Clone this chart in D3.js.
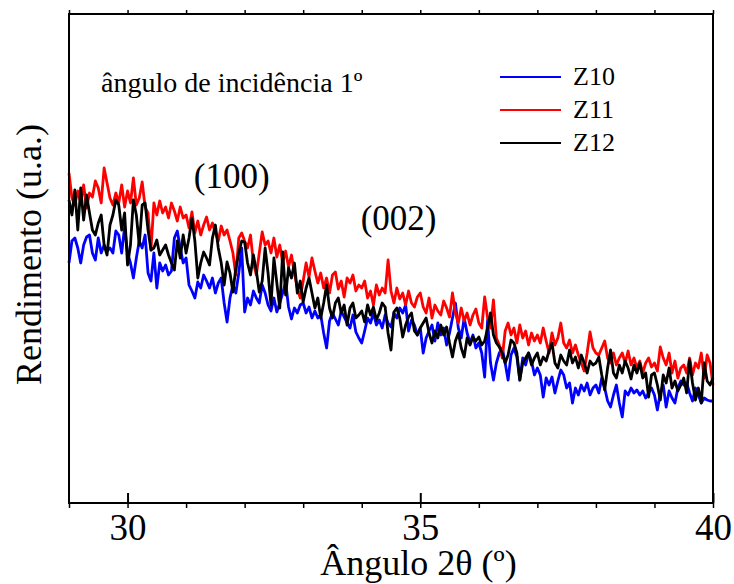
<!DOCTYPE html>
<html>
<head>
<meta charset="utf-8">
<script src="https://cdn.jsdelivr.net/npm/d3@7"></script>
<style>
  body { margin: 0; background: #fff; }
  text { font-family: "Times New Roman", "Liberation Serif", serif; fill: #000; }
</style>
</head>
<body>
<svg id="canvas"></svg>
<script>
// XRD scan, 29-40 deg, step 0.05 deg; intensities in arbitrary units
const startAngle = 29;
const stepAngle = 0.05;

const z10 = [
  240, 262, 265, 255, 240, 258, 266, 268, 250, 243, 265, 250, 258, 252, 255, 250, 272, 268, 250, 276,
  250, 240, 225, 245, 262, 255, 268, 230, 222, 250, 215, 240, 232, 238, 228, 232, 265, 272, 255, 240,
  245, 218, 212, 205, 221, 215, 228, 222, 215, 225, 210, 220, 225, 200, 181, 205, 218, 210, 230, 255,
  191, 205, 198, 212, 205, 200, 218, 210, 198, 192, 205, 191, 200, 210, 221, 196, 184, 195, 190, 198,
  200, 190, 196, 185, 192, 185, 188, 170, 155, 182, 190, 184, 178, 192, 186, 180, 175, 188, 171, 165,
  160, 172, 185, 180, 190, 178, 183, 175, 188, 180, 176, 190, 185, 195, 190, 198, 172, 183, 178, 168,
  175, 150, 165, 172, 178, 162, 180, 168, 175, 158, 170, 185, 200, 175, 165, 185, 170, 160, 168, 155,
  160, 150, 126, 183, 140, 123, 140, 150, 155, 140, 123, 148, 155, 146, 123, 145, 138, 150, 142, 128,
  135, 128, 106, 125, 118, 126, 110, 122, 133, 128, 115, 120, 100, 115, 108, 118, 112, 120, 108, 115,
  118, 110, 125, 115, 102, 96, 108, 118, 100, 86, 112, 108, 115, 110, 113, 108, 112, 105, 110, 115,
  108, 93, 110, 118, 96, 112, 105, 100, 115, 122, 118, 120, 110, 102, 115, 108, 100, 105, 103, 102, 102
];

const z11 = [
  330, 305, 298, 312, 300, 318, 295, 310, 306, 322, 315, 300, 335, 320, 305, 298, 310, 300, 318, 296,
  312, 300, 325, 298, 305, 321, 296, 290, 253, 300, 288, 302, 290, 296, 285, 300, 292, 282, 296, 285,
  288, 275, 291, 270, 282, 268, 278, 286, 273, 280, 270, 262, 277, 268, 273, 262, 250, 228, 265, 270,
  262, 255, 268, 240, 228, 250, 271, 258, 262, 250, 265, 246, 258, 240, 252, 236, 248, 230, 215, 205,
  222, 240, 226, 245, 232, 220, 230, 215, 225, 210, 228, 231, 214, 222, 206, 225, 220, 228, 212, 218,
  215, 222, 205, 212, 198, 218, 208, 215, 210, 243, 212, 200, 215, 204, 210, 198, 212, 200, 196, 206,
  210, 196, 190, 205, 185, 198, 192, 188, 202, 195, 186, 210, 190, 180, 195, 182, 190, 178, 188, 194,
  180, 175, 206, 185, 175, 203, 165, 158, 145, 172, 180, 168, 175, 160, 178, 165, 172, 158, 170, 162,
  168, 160, 175, 162, 150, 170, 158, 165, 180, 160, 155, 163, 150, 158, 148, 140, 132, 150, 171, 155,
  150, 148, 155, 162, 145, 140, 150, 138, 145, 150, 140, 152, 138, 145, 135, 142, 130, 140, 145, 136,
  140, 132, 156, 145, 138, 150, 130, 142, 125, 135, 138, 130, 145, 128, 140, 135, 150, 125, 148, 140, 118
];

const z12 = [
  303, 288, 313, 273, 315, 283, 308, 290, 273, 268, 280, 288, 258, 248, 278, 288, 303, 298, 273, 290,
  238, 258, 303, 288, 258, 298, 300, 273, 253, 255, 263, 248, 253, 258, 248, 240, 233, 262, 245, 268,
  250, 265, 285, 262, 225, 240, 251, 245, 238, 265, 278, 255, 240, 218, 241, 230, 211, 235, 250, 262,
  261, 240, 228, 248, 232, 211, 222, 255, 230, 198, 245, 220, 195, 251, 208, 235, 225, 240, 210, 222,
  201, 215, 225, 210, 195, 205, 185, 200, 218, 195, 185, 200, 205, 190, 198, 178, 195, 200, 185, 188,
  192, 181, 198, 188, 196, 183, 190, 200, 196, 170, 153, 191, 195, 185, 166, 178, 186, 190, 172, 168,
  175, 180, 185, 170, 160, 172, 165, 178, 168, 176, 160, 146, 162, 170, 155, 146, 165, 158, 166, 162,
  166, 158, 162, 175, 190, 168, 160, 156, 150, 140, 148, 163, 160, 150, 123, 140, 145, 150, 138, 145,
  150, 138, 146, 142, 152, 160, 140, 135, 148, 142, 138, 153, 140, 146, 135, 148, 140, 130, 142, 138,
  140, 146, 128, 113, 135, 153, 130, 125, 138, 130, 142, 135, 124, 138, 130, 140, 125, 130, 106, 128,
  130, 118, 103, 128, 120, 135, 115, 122, 112, 118, 125, 110, 143, 120, 103, 115, 100, 140, 122, 118, 125
];

const seriesNames = ["Z10", "Z11", "Z12"];
const seriesColors = ["#0000ff", "#ff0000", "#000000"];
const majorTicks = [30, 35, 40];
const minorTicks = [29, 30, 31, 32, 33, 34, 35, 36, 37, 38, 39, 40];
const peakLabels = [{ text: "(100)", x: 31.78, y: 315 }, { text: "(002)", x: 34.63, y: 273 }];

const width = 734;
const height = 584;
const margin = { top: 14, right: 21, bottom: 81, left: 69 };
const innerWidth = width - margin.left - margin.right;
const innerHeight = height - margin.top - margin.bottom;

const svg = d3.select("#canvas").attr("width", width).attr("height", height);

const xScale = d3.scaleLinear().domain([29, 40]).range([margin.left, margin.left + innerWidth]);
const yScale = d3.scaleLinear().domain([0, 489]).range([margin.top + innerHeight, margin.top]);

const allSeries = [z10, z11, z12].map((vals, k) => ({
    name: seriesNames[k],
    color: seriesColors[k],
    points: vals.map((v, i) => ({ x: startAngle + i * stepAngle, y: v }))
}));

const line = d3.line().x(d => xScale(d.x)).y(d => yScale(d.y));

svg.append("g").classed("lines", true)
    .selectAll("path")
    .data(allSeries)
    .join("path")
    .attr("d", d => line(d.points))
    .attr("fill", "none")
    .attr("stroke", d => d.color)
    .attr("stroke-width", 2.8)
    .attr("stroke-linejoin", "round");

// frame
svg.append("rect")
    .attr("x", margin.left).attr("y", margin.top)
    .attr("width", innerWidth).attr("height", innerHeight)
    .attr("fill", "none").attr("stroke", "#000").attr("stroke-width", 2);

const bottomY = margin.top + innerHeight;

// minor ticks point out, majors point in
svg.append("g")
    .attr("transform", `translate(0, ${bottomY})`)
    .call(d3.axisBottom(xScale).tickValues(minorTicks).tickSize(5).tickFormat(""))
    .call(g => g.select(".domain").remove())
    .call(g => g.selectAll("line").attr("stroke-width", 1.5));

svg.append("g")
    .attr("transform", `translate(0, ${bottomY})`)
    .call(d3.axisBottom(xScale).tickValues(majorTicks).tickSize(-10).tickPadding(11).tickFormat(d3.format("d")))
    .call(g => g.select(".domain").remove())
    .call(g => g.selectAll("line").attr("stroke-width", 2))
    .call(g => g.selectAll("text")
        .style("font-size", "37px")
        .attr("fill", "#000"));

svg.append("g")
    .attr("transform", `translate(0, ${margin.top})`)
    .call(d3.axisTop(xScale).tickValues(minorTicks).tickSize(4).tickFormat(""))
    .call(g => g.select(".domain").remove())
    .call(g => g.selectAll("line").attr("stroke-width", 1.5));

// axis titles
svg.append("text")
    .attr("x", xScale(34.97))
    .attr("y", 575)
    .attr("text-anchor", "middle")
    .style("font-size", "36px")
    .text("Ângulo 2θ (º)");

svg.append("text")
    .attr("transform", `translate(41, ${margin.top + innerHeight / 2 - 4}) rotate(-90)`)
    .attr("text-anchor", "middle")
    .style("font-size", "36px")
    .text("Rendimento (u.a.)");

svg.append("text")
    .attr("x", 101)
    .attr("y", 92)
    .style("font-size", "28px")
    .text("ângulo de incidência 1º");

svg.selectAll("text.peak")
    .data(peakLabels)
    .join("text")
    .classed("peak", true)
    .attr("x", d => xScale(d.x))
    .attr("y", d => yScale(d.y))
    .attr("text-anchor", "middle")
    .style("font-size", "35px")
    .text(d => d.text);

// legend
const legendScale = d3.scalePoint().domain(seriesNames).range([77, 143]);
const legend = svg.append("g").classed("legend", true);
legend.selectAll("line")
    .data(allSeries)
    .join("line")
    .attr("x1", 500).attr("x2", 561)
    .attr("y1", d => legendScale(d.name)).attr("y2", d => legendScale(d.name))
    .attr("stroke", d => d.color)
    .attr("stroke-width", 2.2);
legend.selectAll("text")
    .data(allSeries)
    .join("text")
    .attr("x", 573)
    .attr("y", d => legendScale(d.name) + 8)
    .style("font-size", "26px")
    .text(d => d.name);
</script>
</body>
</html>
